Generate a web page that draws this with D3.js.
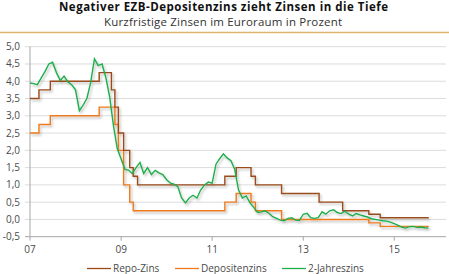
<!DOCTYPE html>
<html>
<head>
<meta charset="utf-8">
<script src="https://cdn.jsdelivr.net/npm/d3@7"></script>
<style>
    html, body { margin: 0; padding: 0; background: #fff; }
    svg { display: block; font-family: "Open Sans", "Noto Sans", sans-serif; }
</style>
</head>
<body>
<svg id="chart" width="449" height="274"></svg>
<script>
// Leitzinsen: Datum der Änderung und neuer Satz
const repoDates = ['2007-01-01', '2007-03-14', '2007-06-13', '2008-07-09', '2008-10-15', '2008-11-12',
    '2008-12-10', '2009-01-21', '2009-03-11', '2009-04-08', '2009-05-13', '2011-04-13', '2011-07-13',
    '2011-11-09', '2011-12-14', '2012-07-11', '2013-05-08', '2013-11-13', '2014-06-11', '2014-09-10', '2015-10-05'];
const repoValues = [3.50, 3.75, 4.00, 4.25, 3.75, 3.25, 2.50, 2.00, 1.50, 1.25, 1.00, 1.25, 1.50,
    1.25, 1.00, 0.75, 0.50, 0.25, 0.15, 0.05, 0.05];

const depoDates = ['2007-01-01', '2007-03-14', '2007-06-13', '2008-07-09', '2008-11-12', '2008-12-10',
    '2009-01-21', '2009-03-11', '2009-04-08', '2011-04-13', '2011-07-13', '2011-11-09', '2011-12-14',
    '2012-07-11', '2014-06-11', '2014-09-10', '2015-10-05'];
const depoValues = [2.50, 2.75, 3.00, 3.25, 2.75, 2.00, 1.00, 0.50, 0.25, 0.50, 0.75, 0.50, 0.25,
    0.00, -0.10, -0.20, -0.20];

// 2-Jahreszins, Monatswerte ab Januar 2007
const yieldStart = '2007-01-01';
const yieldValues = [
    3.95, 3.93, 3.90, 4.10, 4.28, 4.50, 4.55, 4.25, 4.02, 4.15, 3.98, 3.90,
    3.75, 3.15, 3.30, 3.50, 3.95, 4.65, 4.45, 4.50, 4.10, 3.55, 2.70, 2.05,
    1.75, 1.45, 1.43, 1.33, 1.50, 1.65, 1.33, 1.50, 1.30, 1.42, 1.35, 1.30,
    1.15, 1.05, 1.02, 0.95, 0.62, 0.48, 0.62, 0.70, 0.62, 0.85, 1.00, 1.08,
    1.05, 1.60, 1.75, 1.90, 1.78, 1.70, 1.45, 0.85, 0.62, 0.68, 0.48, 0.35,
    0.20, 0.22, 0.25, 0.18, 0.08, 0.03, -0.02, -0.04, 0.03, 0.05, -0.02, -0.03,
    0.15, 0.18, 0.05, 0.03, 0.05, 0.22, 0.15, 0.25, 0.28, 0.20, 0.17, 0.24,
    0.15, 0.10, 0.17, 0.13, 0.10, 0.07, 0.02, 0.00, -0.02, -0.04, -0.05, -0.08,
    -0.12, -0.17, -0.22, -0.25, -0.21, -0.20, -0.23, -0.22, -0.24, -0.25
];

const yTicks = [-0.5, 0, 0.5, 1, 1.5, 2, 2.5, 3, 3.5, 4, 4.5, 5];
const xTickYears = [2007, 2009, 2011, 2013, 2015];

const seriesNames = ['Repo-Zins', 'Depositenzins', '2-Jahreszins'];

const REPO_COLOR = '#9a4b1c';
const DEPO_COLOR = '#ee7a1e';
const YIELD_COLOR = '#1fae4b';
const GRID_COLOR = '#dcdcdc';
const AXIS_COLOR = '#a6a6a6';
const TEXT_COLOR = '#4a4a4a';

const parse = d3.timeParse('%Y-%m-%d');
const repo = repoDates.map((d, i) => ({ date: parse(d), value: repoValues[i] }));
const depo = depoDates.map((d, i) => ({ date: parse(d), value: depoValues[i] }));
const yieldData = yieldValues.map((v, i) => ({ date: d3.timeMonth.offset(parse(yieldStart), i), value: v }));

const svg = d3.select('#chart');

// Titel
svg.append('text')
    .attr('x', 223.5)
    .attr('y', 11)
    .attr('text-anchor', 'middle')
    .attr('textLength', 329)
    .attr('lengthAdjust', 'spacing')
    .style('font-size', '11.5px')
    .style('font-weight', '700')
    .style('fill', '#111')
    .text('Negativer EZB-Depositenzins zieht Zinsen in die Tiefe');

svg.append('text')
    .attr('x', 223)
    .attr('y', 26)
    .attr('text-anchor', 'middle')
    .attr('textLength', 238)
    .attr('lengthAdjust', 'spacing')
    .style('font-size', '11.5px')
    .style('fill', '#333')
    .text('Kurzfristige Zinsen im Euroraum in Prozent');

svg.append('line')
    .attr('x1', 0).attr('x2', 449)
    .attr('y1', 32.5).attr('y2', 32.5)
    .attr('stroke', '#dcb46e')
    .attr('stroke-width', 1.5);

// Skalen
const x = d3.scaleTime()
    .domain([parse('2007-01-01'), parse('2016-02-20')])
    .range([30, 446]);
const y = d3.scaleLinear()
    .domain([-0.5, 5])
    .range([236.7, 46.7]);

// Gitternetz
svg.append('g')
    .selectAll('line')
    .data(yTicks.filter(t => t > -0.5))
    .enter()
    .append('line')
    .attr('x1', 25).attr('x2', 446)
    .attr('y1', d => y(d)).attr('y2', d => y(d))
    .attr('stroke', GRID_COLOR)
    .attr('stroke-width', 1);

svg.append('g')
    .selectAll('text')
    .data(yTicks)
    .enter()
    .append('text')
    .attr('x', 20)
    .attr('y', d => y(d))
    .attr('dy', '0.35em')
    .attr('text-anchor', 'end')
    .style('font-size', '10px')
    .style('fill', TEXT_COLOR)
    .text(d => d3.format('.1f')(d).replace('.', ',').replace('−', '-'));

// Achsen
svg.append('line')
    .attr('x1', 30).attr('x2', 30)
    .attr('y1', y(5)).attr('y2', y(-0.5))
    .attr('stroke', AXIS_COLOR);
svg.append('line')
    .attr('x1', 25).attr('x2', 446)
    .attr('y1', y(-0.5)).attr('y2', y(-0.5))
    .attr('stroke', AXIS_COLOR);

const xTicks = xTickYears.map(yr => new Date(yr, 0, 1));
const xt = svg.append('g')
    .selectAll('g')
    .data(xTicks)
    .enter()
    .append('g')
    .attr('transform', d => `translate(${x(d)},${y(-0.5)})`);
xt.append('line')
    .attr('y1', 0).attr('y2', 4)
    .attr('stroke', AXIS_COLOR);
xt.append('text')
    .attr('y', 16)
    .attr('text-anchor', 'middle')
    .style('font-size', '10px')
    .style('fill', TEXT_COLOR)
    .text(d => d3.timeFormat('%y')(d));

// Schatten
const defs = svg.append('defs');
const filter = defs.append('filter')
    .attr('id', 'shadow')
    .attr('x', '-10%').attr('y', '-10%')
    .attr('width', '120%').attr('height', '120%');
filter.append('feDropShadow')
    .attr('dx', 1.5)
    .attr('dy', 2)
    .attr('stdDeviation', 1.3)
    .attr('flood-color', '#000')
    .attr('flood-opacity', 0.25);

const lines = svg.append('g').attr('filter', 'url(#shadow)');

const stepLine = d3.line()
    .x(d => x(d.date))
    .y(d => y(d.value))
    .curve(d3.curveStepAfter);
const plainLine = d3.line()
    .x(d => x(d.date))
    .y(d => y(d.value));

lines.append('path')
    .datum(depo)
    .attr('d', stepLine)
    .attr('fill', 'none')
    .attr('stroke', DEPO_COLOR)
    .attr('stroke-width', 1.4);

lines.append('path')
    .datum(repo)
    .attr('d', stepLine)
    .attr('fill', 'none')
    .attr('stroke', REPO_COLOR)
    .attr('stroke-width', 1.4);

lines.append('path')
    .datum(yieldData)
    .attr('d', plainLine)
    .attr('fill', 'none')
    .attr('stroke', YIELD_COLOR)
    .attr('stroke-width', 1.4);

// Legende
const legendColors = [REPO_COLOR, DEPO_COLOR, YIELD_COLOR];
const legendX = [87, 175, 282];
const legend = svg.append('g')
    .selectAll('g')
    .data(seriesNames)
    .enter()
    .append('g')
    .attr('transform', (d, i) => `translate(${legendX[i]},268.5)`);
legend.append('line')
    .attr('x1', 0).attr('x2', 24)
    .attr('stroke', (d, i) => legendColors[i])
    .attr('stroke-width', 1.3);
legend.append('text')
    .attr('x', 26)
    .attr('dy', '0.35em')
    .style('font-size', '10px')
    .style('fill', TEXT_COLOR)
    .text(d => d);
</script>
</body>
</html>
